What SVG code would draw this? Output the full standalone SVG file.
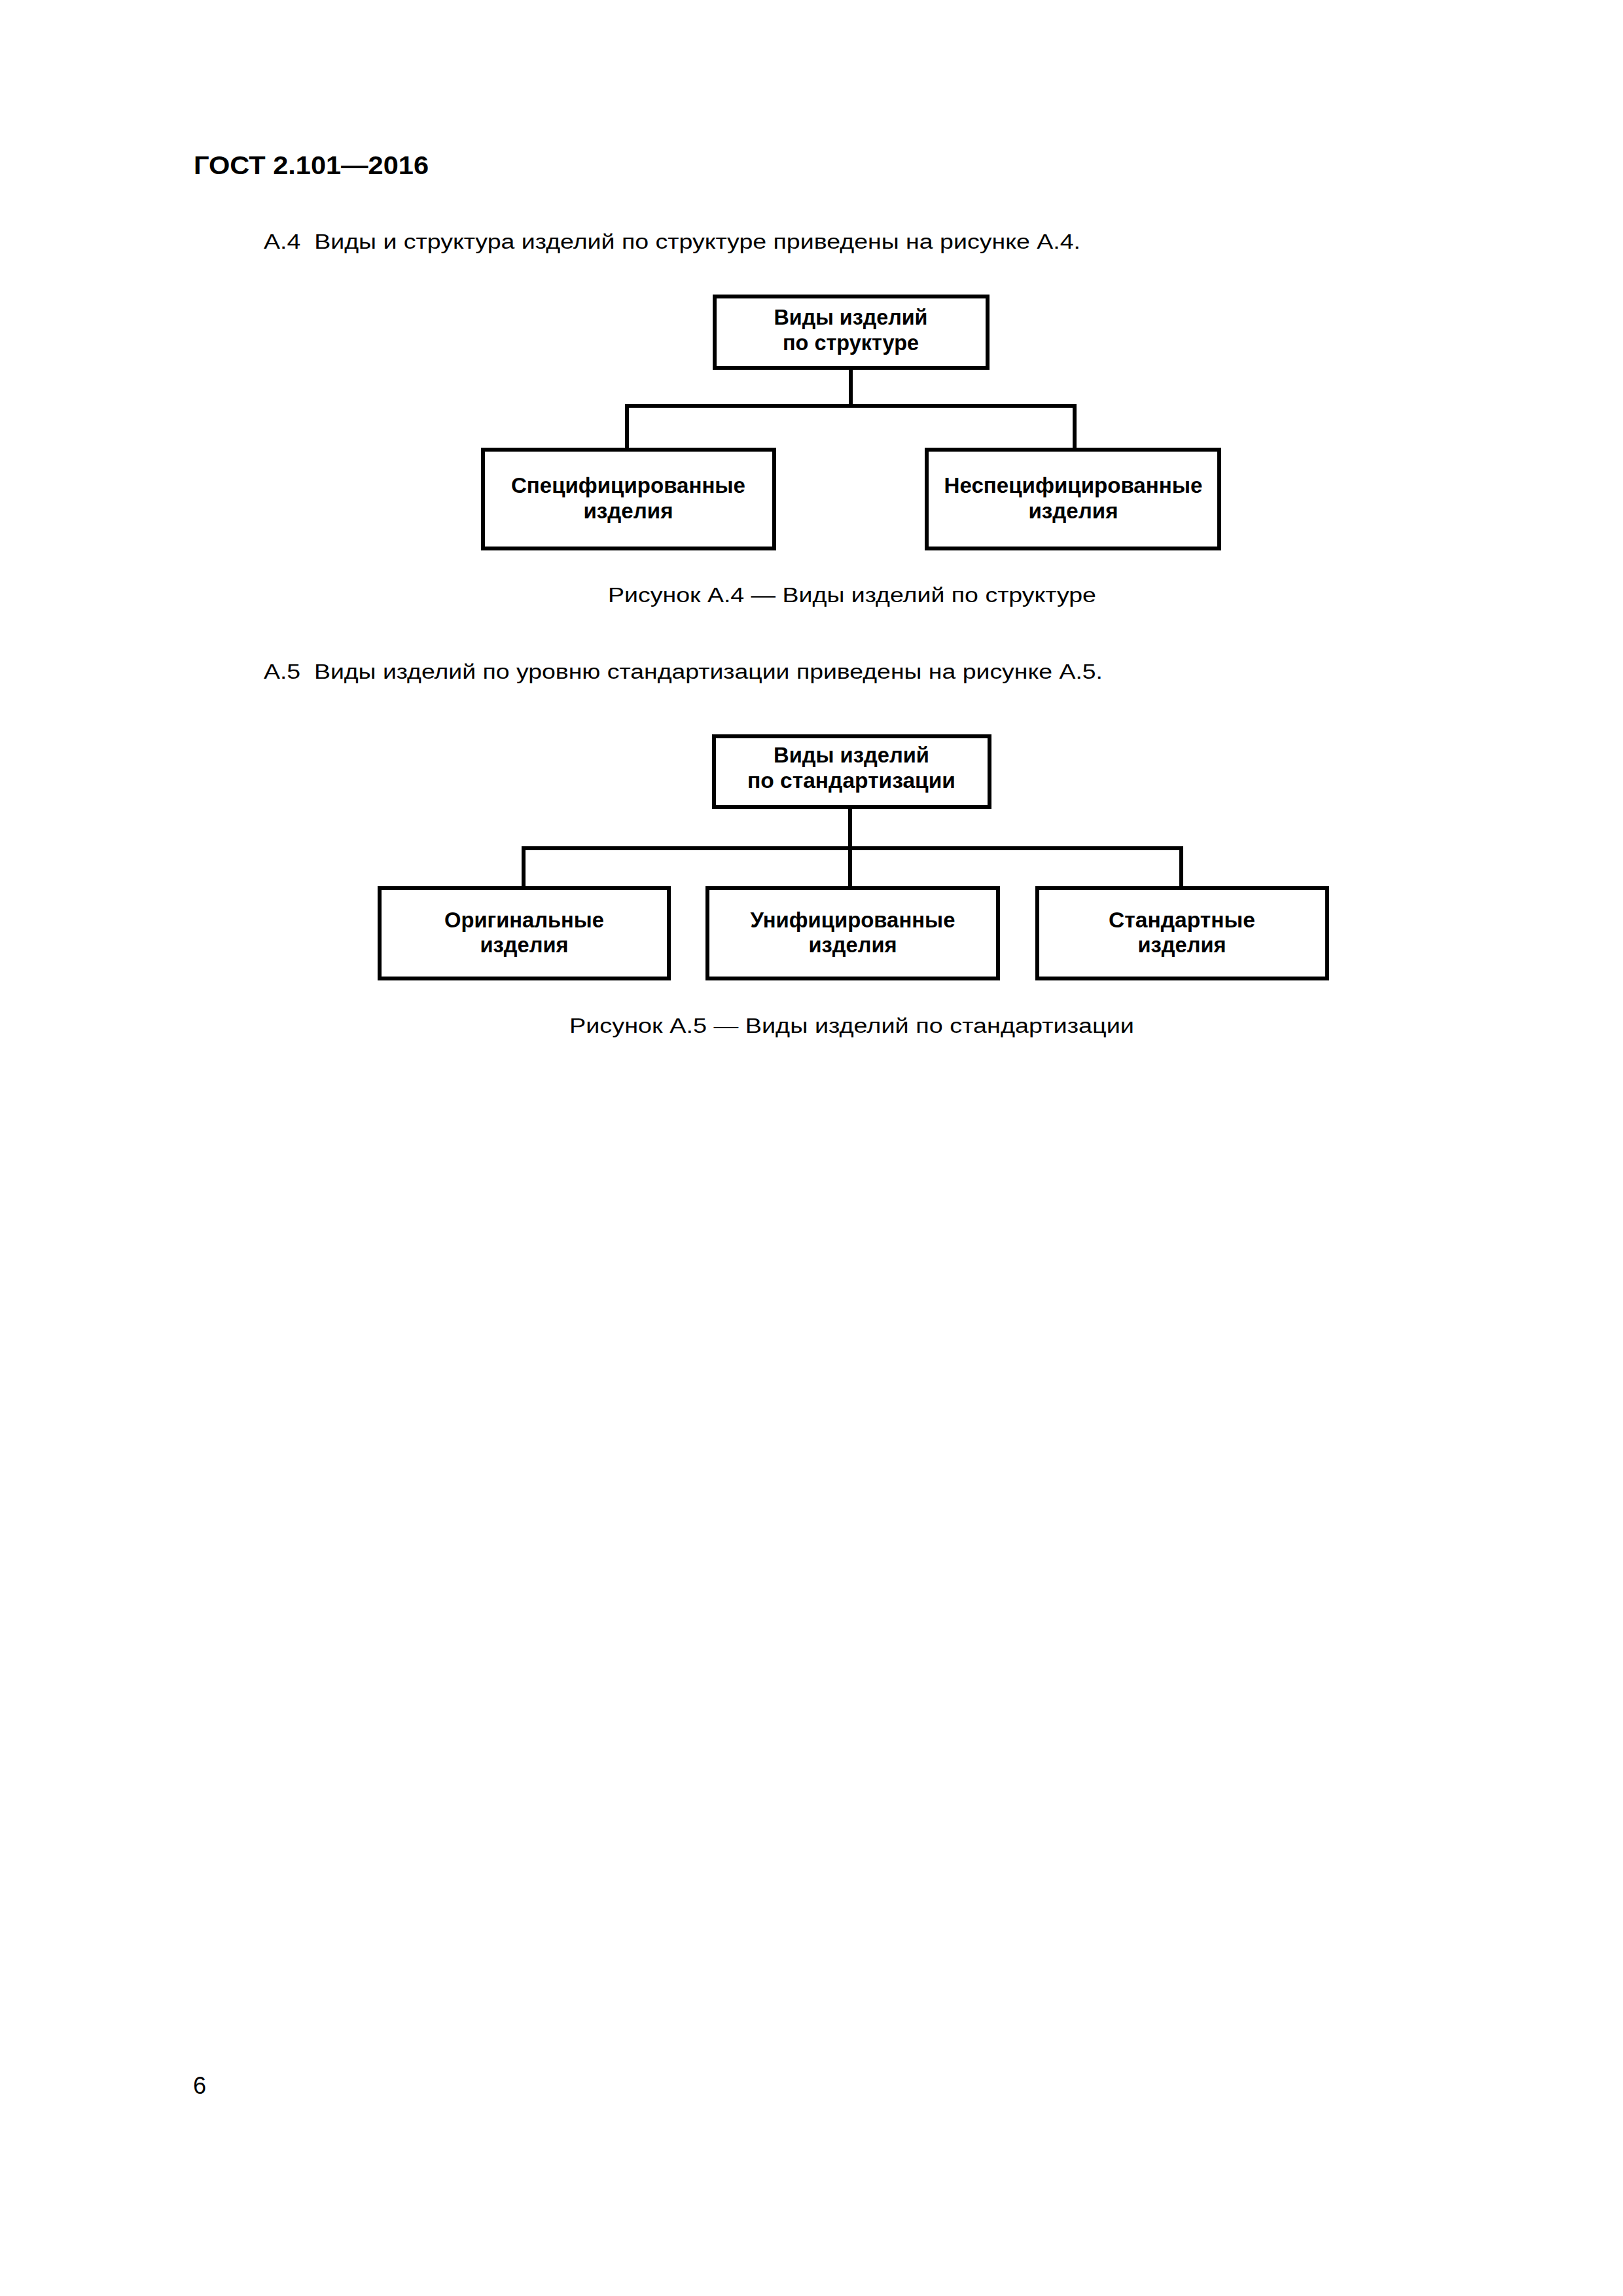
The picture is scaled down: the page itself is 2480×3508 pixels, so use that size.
<svg xmlns="http://www.w3.org/2000/svg" width="2480" height="3508" viewBox="0 0 2480 3508">
<style>
.pg{font-family:"Liberation Sans",Arial,sans-serif;fill:#000}
.hd{font-size:38px;font-weight:bold}
.tx{font-size:31px}
.bx{font-size:33px;font-weight:bold;text-anchor:middle}
.box{fill:#fff;stroke:#000;stroke-width:6}
.ln{fill:none;stroke:#000;stroke-width:6;stroke-linecap:square}
</style>
<rect width="2480" height="3508" fill="#fff"/>
<text class="pg hd" x="296" y="266" textLength="359" lengthAdjust="spacingAndGlyphs">ГОСТ 2.101—2016</text>
<text class="pg tx" x="403" y="380" xml:space="preserve" textLength="1248" lengthAdjust="spacingAndGlyphs">А.4  Виды и структура изделий по структуре приведены на рисунке А.4.</text>

<g id="connectors4">
<path class="ln" d="M1300 562 V620 M958 620 H1642 M958 620 V687 M1642 620 V687"/>
</g>
<g id="n4-root">
<rect class="box" x="1092" y="453" width="417" height="109"/>
<text class="pg bx" x="1300" y="496" textLength="235" lengthAdjust="spacingAndGlyphs">Виды изделий</text>
<text class="pg bx" x="1300" y="535" textLength="208" lengthAdjust="spacingAndGlyphs">по структуре</text>
</g>
<g id="n4-spec">
<rect class="box" x="738" y="687" width="445" height="151"/>
<text class="pg bx" x="960" y="753" textLength="358" lengthAdjust="spacingAndGlyphs">Специфицированные</text>
<text class="pg bx" x="960" y="792" textLength="137" lengthAdjust="spacingAndGlyphs">изделия</text>
</g>
<g id="n4-nonspec">
<rect class="box" x="1416" y="687" width="447" height="151"/>
<text class="pg bx" x="1640" y="753" textLength="395" lengthAdjust="spacingAndGlyphs">Неспецифицированные</text>
<text class="pg bx" x="1640" y="792" textLength="137" lengthAdjust="spacingAndGlyphs">изделия</text>
</g>
<text class="pg tx" x="929" y="920" textLength="746" lengthAdjust="spacingAndGlyphs">Рисунок А.4 — Виды изделий по структуре</text>

<text class="pg tx" x="403" y="1037" xml:space="preserve" textLength="1282" lengthAdjust="spacingAndGlyphs">А.5  Виды изделий по уровню стандартизации приведены на рисунке А.5.</text>

<g id="connectors5">
<path class="ln" d="M1299 1233 V1296 M800 1296 H1805 M800 1296 V1357 M1299 1296 V1357 M1805 1296 V1357"/>
</g>
<g id="n5-root">
<rect class="box" x="1091" y="1125" width="421" height="108"/>
<text class="pg bx" x="1301" y="1165" textLength="238" lengthAdjust="spacingAndGlyphs">Виды изделий</text>
<text class="pg bx" x="1301" y="1204" textLength="318" lengthAdjust="spacingAndGlyphs">по стандартизации</text>
</g>
<g id="n5-orig">
<rect class="box" x="580" y="1357" width="442" height="138"/>
<text class="pg bx" x="801" y="1417" textLength="244" lengthAdjust="spacingAndGlyphs">Оригинальные</text>
<text class="pg bx" x="801" y="1455" textLength="135" lengthAdjust="spacingAndGlyphs">изделия</text>
</g>
<g id="n5-unif">
<rect class="box" x="1081" y="1357" width="444" height="138"/>
<text class="pg bx" x="1303" y="1417" textLength="313" lengthAdjust="spacingAndGlyphs">Унифицированные</text>
<text class="pg bx" x="1303" y="1455" textLength="135" lengthAdjust="spacingAndGlyphs">изделия</text>
</g>
<g id="n5-std">
<rect class="box" x="1585" y="1357" width="443" height="138"/>
<text class="pg bx" x="1806" y="1417" textLength="224" lengthAdjust="spacingAndGlyphs">Стандартные</text>
<text class="pg bx" x="1806" y="1455" textLength="135" lengthAdjust="spacingAndGlyphs">изделия</text>
</g>
<text class="pg tx" x="870" y="1578" textLength="863" lengthAdjust="spacingAndGlyphs">Рисунок А.5 — Виды изделий по стандартизации</text>

<text class="pg" x="295" y="3199" font-size="36">6</text>
</svg>
